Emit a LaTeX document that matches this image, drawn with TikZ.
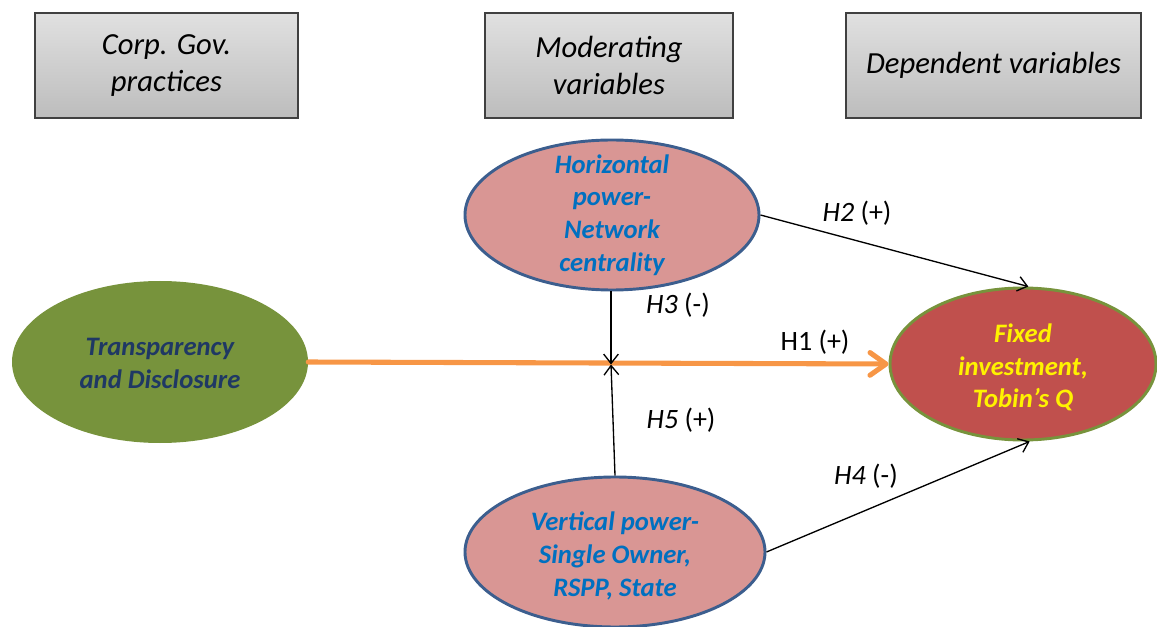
\documentclass[tikz,border=0pt]{standalone}
\usepackage{fontspec}
\setmainfont{Carlito}
\usetikzlibrary{shapes.geometric,arrows.meta}
\definecolor{boxedge}{HTML}{404040}
\definecolor{leafgreen}{HTML}{77933C}
\definecolor{navytext}{HTML}{1F3864}
\definecolor{rosefill}{HTML}{D99694}
\definecolor{steeledge}{HTML}{3C5E8E}
\definecolor{bluetext}{HTML}{0070C0}
\definecolor{brickfill}{HTML}{C0504D}
\definecolor{flow}{HTML}{F79646}
\tikzset{
  headbox/.style={draw=boxedge, line width=1.3pt, top color=white!88!black,
    bottom color=white!74!black, minimum width=#1, minimum height=78.75pt,
    inner sep=0pt, align=center, font=\fontsize{23}{28}\selectfont\itshape},
  oval/.style={ellipse, inner sep=0pt},
  ovaltext/.style={align=center, inner sep=0pt,
    font=\fontsize{20}{24.5}\selectfont\bfseries\itshape},
  thinlink/.style={draw=black, line width=1pt,
    -{Straight Barb[length=7pt,width=11pt]}},
  hlabel/.style={font=\fontsize{21}{24}\selectfont, inner sep=0pt}
}
\begin{document}
\begin{tikzpicture}[x=0.75pt,y=-0.75pt]
\useasboundingbox (0,0) rectangle (1157,627);

% column headings
\node[headbox=197pt] (h1) at (166.5,65.5) {Corp. Gov.\\practices};
\node[headbox=186pt] (h2) at (609,65.5) {Moderating\\variables};
\node[headbox=221pt] (h3) at (993.5,65.5) {Dependent variables};

% constructs
\node[oval, fill=leafgreen, minimum width=222pt, minimum height=121.5pt]
  (tr) at (160,362) {};
\node[oval, fill=rosefill, draw=steeledge, line width=2.2pt,
  minimum width=220.5pt, minimum height=112.5pt] (hp) at (612,215) {};
\node[oval, fill=rosefill, draw=steeledge, line width=2.2pt,
  minimum width=225pt, minimum height=112.5pt] (vp) at (615,552) {};
\node[oval, fill=brickfill, draw=leafgreen, line width=2.2pt,
  minimum width=199.5pt, minimum height=114pt] (fi) at (1023,364) {};

\node[ovaltext, text=navytext] (trt) at ([yshift=-1pt]tr.center) {Transparency\\and Disclosure};
\node[ovaltext, text=bluetext] (hpt) at (hp.center) {Horizontal\\power-\\Network\\centrality};
\node[ovaltext, text=bluetext] (vpt) at ([yshift=-3pt]vp.center) {Vertical power-\\Single Owner,\\RSPP, State};
\node[ovaltext, text=yellow] (fit) at ([yshift=-2.5pt]fi.center) {Fixed\\investment,\\Tobin’s Q};

% moderation meeting point on the main path
\coordinate (mid) at (611,364.5);

% main effect
\draw[flow, line width=3.8pt, line cap=round,
  -{Straight Barb[length=12pt,width=17pt,round]}] (tr.east) -- (fi.west);

% moderating effects
\draw[thinlink] (hp.south -| mid) -- (mid);
\draw[thinlink] (vp.north) -- (mid);
\draw[thinlink] (hp.east) -- ([xshift=4pt]fi.north);
\draw[thinlink] (vp.east) -- ([xshift=5pt]fi.south);

% hypothesis labels
\node[hlabel] (l2) at (857,213) {\itshape H2 \upshape(+)};
\node[hlabel] (l3) at (678,305) {\itshape H3 \upshape(-)};
\node[hlabel] (l1) at (815,342) {H1 (+)};
\node[hlabel] (l5) at (681,420) {\itshape H5 \upshape(+)};
\node[hlabel] (l4) at (866,476) {\itshape H4 \upshape(-)};
\end{tikzpicture}
\end{document}
